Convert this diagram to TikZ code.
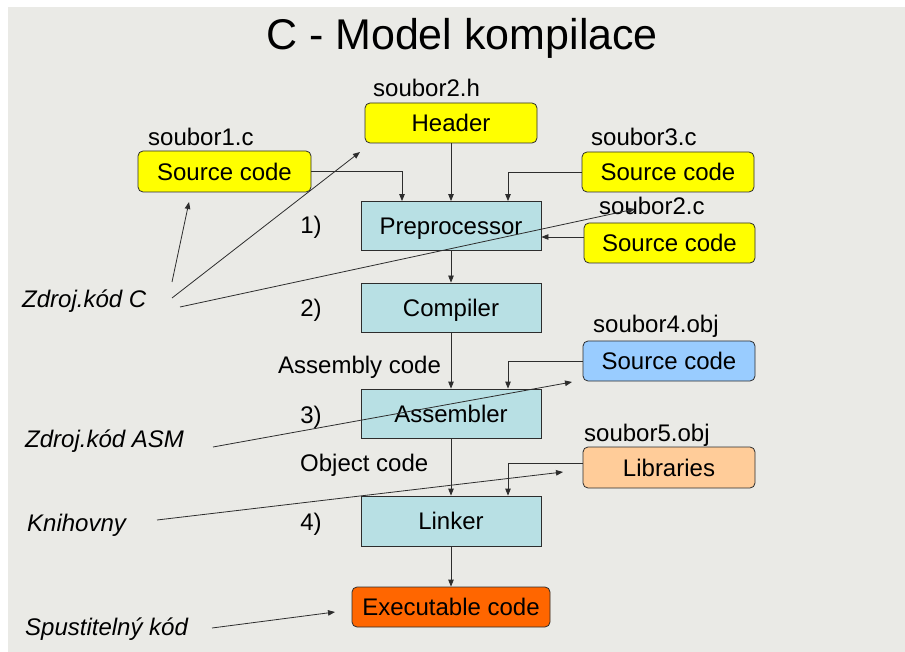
\documentclass[tikz,border=0pt]{standalone}
\usepackage{fontspec}
\setmainfont{Liberation Sans}
\usetikzlibrary{arrows.meta}
\definecolor{bgc}{RGB}{234,234,230}
\definecolor{procfill}{RGB}{184,224,228}
\definecolor{yel}{RGB}{255,255,0}
\definecolor{objblue}{RGB}{153,204,255}
\definecolor{peach}{RGB}{255,204,153}
\definecolor{orng}{RGB}{255,102,0}
\definecolor{ln}{RGB}{45,45,45}
\begin{document}
\begin{tikzpicture}[x=1pt,y=-1pt,
  every node/.style={font=\fontsize{24}{28}\selectfont, inner sep=0pt, text=black},
  procbox/.style={draw=ln, line width=0.8pt, fill=procfill, minimum width=180pt, minimum height=49pt, text height=17.5pt, text depth=0pt},
  filebox/.style={draw=ln, line width=0.8pt, rounded corners=5pt, minimum width=172pt, minimum height=40pt, text height=17.5pt, text depth=0pt},
  lbl/.style={anchor=base west},
  conn/.style={draw=ln, line width=0.8pt, -{Triangle[length=7pt,width=5.5pt]}},
]
\useasboundingbox (0,0) rectangle (905,652);
\fill[bgc] (8,7) rectangle (905,652);

% title
\node[anchor=base] (title) at (462,50) {\fontsize{43}{48}\selectfont C - Model kompilace};

% file boxes
\node[filebox, fill=yel] (hdr) at (451,123) {Header};
\node[filebox, fill=yel, minimum width=173pt, minimum height=41pt] (s1) at (224.5,171.5) {Source code};
\node[filebox, fill=yel] (s3) at (668,172) {Source code};
\node[filebox, fill=yel, minimum width=171pt] (s2c) at (669.5,243) {Source code};
\node[filebox, fill=objblue] (s4) at (669,361) {Source code};
\node[filebox, fill=peach, minimum height=41pt] (lib) at (669,467.5) {Libraries};

% file labels
\node[lbl] (l1) at (148,146) {soubor1.c};
\node[lbl] (l2h) at (373,97) {soubor2.h};
\node[lbl] (l3) at (591,146) {soubor3.c};
\node[lbl] (l2c) at (599,215) {soubor2.c};
\node[lbl] (l4) at (593,333) {soubor4.obj};
\node[lbl] (l5) at (584,441) {soubor5.obj};

% process boxes
\node[procbox] (pre) at (451,226) {Preprocessor};
\node[procbox] (comp) at (451,307.5) {Compiler};
\node[procbox] (asm) at (451,413.5) {Assembler};
\node[procbox, minimum height=50pt] (link) at (451,521) {Linker};
\node[draw=ln, line width=0.8pt, rounded corners=5pt, fill=orng, minimum width=198pt, minimum height=40pt, text height=17.5pt, text depth=0pt] (exe) at (451,607) {Executable code};

% step numbers and intermediate labels
\node[anchor=base] (n1) at (311,234) {1)};
\node[anchor=base] (n2) at (311,317) {2)};
\node[anchor=base] (n3) at (311,423) {3)};
\node[anchor=base] (n4) at (311,530) {4)};
\node[lbl] (asmcode) at (278,373) {Assembly code};
\node[lbl] (objcode) at (300,471) {Object code};

% main flow connectors
\draw[conn] (hdr.south) -- (pre.north);
\draw[conn] (s1.east) -| ([xshift=-49pt]pre.north);
\draw[conn] (s3.west) -| ([xshift=57pt]pre.north);
\coordinate (s2in) at ([yshift=6pt]s2c.west);
\draw[conn] (s2in) -- (pre.east |- s2in);
\draw[conn] (pre.south) -- (comp.north);
\draw[conn] (comp.south) -- (asm.north);
\draw[conn] (s4.west) -| ([xshift=57pt]asm.north);
\draw[conn] (asm.south) -- (link.north);
\coordinate (libout) at ([yshift=4pt]lib.west);
\draw[conn] (libout) -| ([xshift=57pt]link.north);
\draw[conn] (link.south) -- (exe.north);

% annotation labels
\node[lbl, font=\fontsize{24}{28}\selectfont\itshape] (zc) at (22,308) {Zdroj.kód C};
\node[lbl, font=\fontsize{24}{28}\selectfont\itshape] (zasm) at (25,447) {Zdroj.kód ASM};
\node[lbl, font=\fontsize{24}{28}\selectfont\itshape] (knih) at (27,531) {Knihovny};
\node[lbl, font=\fontsize{24}{28}\selectfont\itshape] (spus) at (25,635) {Spustitelný kód};

% annotation arrows
\coordinate (zcA) at (172,282);
\coordinate (zcAe) at (189,202);
\coordinate (zcB) at (172,298);
\coordinate (zcBe) at (360,152);
\coordinate (zcC) at (180,307);
\coordinate (zcCe) at (635,209);
\coordinate (zasmS) at (213,447);
\coordinate (zasmE) at (572,382);
\coordinate (knS) at (157,520);
\coordinate (knE) at (563,472);
\coordinate (spS) at (212,628);
\coordinate (spE) at (335,612);
\draw[conn] (zcA) -- (zcAe);
\draw[conn] (zcB) -- (zcBe);
\draw[conn] (zcC) -- (zcCe);
\draw[conn] (zasmS) -- (zasmE);
\draw[conn] (knS) -- (knE);
\draw[conn] (spS) -- (spE);
\end{tikzpicture}
\end{document}
